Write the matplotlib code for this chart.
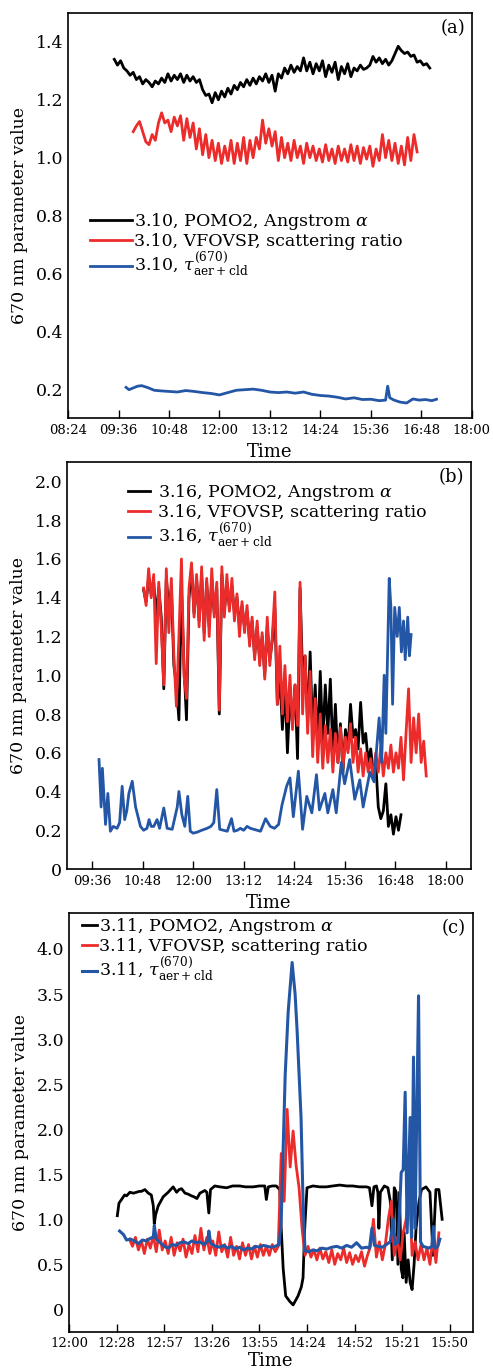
import numpy as np
import matplotlib
matplotlib.use('Agg')
import matplotlib.pyplot as plt

plt.rcParams['font.family'] = 'DejaVu Serif'
plt.rcParams['mathtext.fontset'] = 'dejavuserif'

BLACK = '#000000'
RED = '#ec2b2b'
BLUE = '#2456a6'

# ---------------- panel (a): 3.10 ----------------
a_black_span = (9.50, 17.00)
a_black = [1.34, 1.32, 1.335, 1.31, 1.30, 1.285, 1.295, 1.27, 1.28, 1.255,
           1.27, 1.26, 1.245, 1.265, 1.255, 1.275, 1.26, 1.29, 1.265, 1.285,
           1.27, 1.29, 1.26, 1.285, 1.265, 1.28, 1.26, 1.27, 1.235, 1.215,
           1.22, 1.19, 1.225, 1.20, 1.23, 1.21, 1.24, 1.22, 1.25, 1.235,
           1.26, 1.245, 1.27, 1.25, 1.275, 1.255, 1.28, 1.265, 1.29, 1.26,
           1.285, 1.23, 1.29, 1.275, 1.31, 1.29, 1.32, 1.295, 1.315, 1.30,
           1.345, 1.30, 1.33, 1.29, 1.325, 1.30, 1.335, 1.28, 1.32, 1.295,
           1.33, 1.27, 1.315, 1.29, 1.325, 1.28, 1.31, 1.30, 1.32, 1.305,
           1.31, 1.32, 1.35, 1.33, 1.345, 1.325, 1.34, 1.32, 1.335, 1.36,
           1.385, 1.37, 1.36, 1.365, 1.35, 1.355, 1.33, 1.335, 1.32, 1.325,
           1.31]
a_red_span = (9.95, 16.70)
a_red = [1.09, 1.11, 1.125, 1.09, 1.055, 1.045, 1.08, 1.06, 1.12, 1.155,
         1.12, 1.13, 1.09, 1.14, 1.11, 1.145, 1.06, 1.135, 1.07, 1.12,
         1.03, 1.10, 1.01, 1.08, 1.00, 1.06, 0.99, 1.05, 0.98, 1.04,
         0.99, 1.06, 0.98, 1.05, 0.99, 1.07, 0.98, 1.06, 1.00, 1.07,
         1.03, 1.13, 1.05, 1.10, 1.04, 1.09, 0.99, 1.07, 1.00, 1.05,
         0.99, 1.06, 1.00, 1.04, 0.98, 1.05, 1.00, 1.04, 0.99, 1.03,
         0.985, 1.045, 0.99, 1.03, 0.98, 1.04, 0.99, 1.03, 0.985, 1.045,
         0.99, 1.04, 0.98, 1.035, 0.995, 1.04, 0.97, 1.03, 0.99, 1.08,
         1.00, 1.06, 0.99, 1.05, 0.98, 1.04, 0.975, 1.07, 0.99, 1.08,
         1.02]
a_blue_t = [9.78, 9.85, 9.95, 10.05, 10.15, 10.3, 10.45, 10.6, 10.8, 11.0,
            11.2, 11.4, 11.6, 11.8, 12.0, 12.2, 12.4, 12.6, 12.8, 13.0,
            13.2, 13.4, 13.6, 13.8, 14.0, 14.2, 14.4, 14.6, 14.8, 15.0,
            15.2, 15.4, 15.6, 15.8, 15.95, 16.0, 16.05, 16.15, 16.3, 16.45,
            16.6, 16.75, 16.9, 17.05, 17.16]
a_blue = [0.206, 0.198, 0.204, 0.21, 0.212, 0.205, 0.196, 0.194, 0.192, 0.19,
          0.195, 0.192, 0.188, 0.185, 0.18, 0.188, 0.196, 0.198, 0.2, 0.196,
          0.19, 0.188, 0.19, 0.186, 0.19, 0.182, 0.178, 0.176, 0.172, 0.166,
          0.17, 0.164, 0.165, 0.16, 0.162, 0.21, 0.17, 0.162, 0.155, 0.152,
          0.166, 0.162, 0.164, 0.16, 0.165]
a_xticks = [8.4, 9.6, 10.8, 12.0, 13.2, 14.4, 15.6, 16.8, 18.0]
a_xlabels = ['08:24', '09:36', '10:48', '12:00', '13:12', '14:24', '15:36', '16:48', '18:00']
a_yticks = [0.2, 0.4, 0.6, 0.8, 1.0, 1.2, 1.4]
a_ylabels = ['0.2', '0.4', '0.6', '0.8', '1.0', '1.2', '1.4']

# ---------------- panel (b): 3.16 ----------------
b_black_span = (10.82, 16.94)
b_black = [1.44, 1.38, 1.50, 1.42, 1.48, 1.30, 1.45, 1.30, 0.93, 1.50,
           1.35, 1.45, 1.05, 0.95, 0.77, 1.45, 1.05, 0.77, 1.40, 1.55,
           1.32, 1.50, 1.28, 1.52, 1.22, 1.48, 1.25, 1.50, 1.32, 1.45,
           0.80, 1.52, 1.33, 1.48, 1.35, 1.46, 1.32, 1.40, 1.25, 1.36,
           1.25, 1.33, 1.18, 1.28, 1.10, 1.25, 1.08, 1.20, 1.00, 1.25,
           1.08, 1.18, 1.35, 0.85, 1.00, 0.72, 0.95, 0.60, 0.90, 0.75,
           0.95, 0.57, 1.45, 1.00, 1.10, 0.75, 1.12, 0.70, 0.95, 0.62,
           1.02, 0.66, 0.95, 0.70, 0.98, 0.60, 0.85, 0.55, 0.75, 0.50,
           0.72, 0.62, 0.85, 0.68, 0.72, 0.62, 0.86, 0.65, 0.70, 0.55,
           0.62, 0.50, 0.55, 0.32, 0.26, 0.30, 0.44, 0.22, 0.28, 0.18,
           0.27, 0.20, 0.28]
b_red_span = (10.82, 17.54)
b_red = [1.45, 1.36, 1.55, 1.40, 1.52, 1.06, 1.48, 1.25, 0.95, 1.55,
         1.22, 1.50, 1.10, 0.84, 1.20, 1.60, 1.00, 0.88, 1.45, 1.58,
         1.30, 1.52, 1.25, 1.56, 1.18, 1.50, 1.20, 1.55, 1.30, 1.48,
         0.82, 1.56, 1.30, 1.52, 1.33, 1.50, 1.28, 1.42, 1.20, 1.38,
         1.22, 1.36, 1.15, 1.30, 1.08, 1.28, 1.05, 1.22, 0.98, 1.30,
         1.05, 1.20, 1.43, 0.85, 1.15, 0.80, 1.05, 0.76, 1.00, 0.72,
         0.95, 0.74, 1.48, 0.80, 1.10, 0.70, 1.02, 0.58, 0.88, 0.55,
         0.80, 0.52, 0.74, 0.55, 0.72, 0.50, 0.70, 0.55, 0.73, 0.52,
         0.68, 0.60, 0.75, 0.55, 0.68, 0.50, 0.62, 0.48, 0.60, 0.50,
         0.57, 0.46, 0.60, 0.50, 0.63, 0.48, 0.60, 0.52, 0.64, 0.50,
         0.60, 0.52, 0.68, 0.46, 0.70, 0.93, 0.55, 0.78, 0.60, 0.80,
         0.55, 0.66, 0.48]
b_blue_t = [9.76, 9.81, 9.84, 9.915, 9.97, 10.03, 10.1, 10.19, 10.25, 10.31,
            10.37, 10.42, 10.47, 10.55, 10.63, 10.745, 10.82, 10.9, 10.95, 11.0,
            11.06, 11.14, 11.2, 11.30, 11.38, 11.5, 11.62, 11.66, 11.73, 11.8,
            11.87, 11.93, 12.0, 12.09, 12.2, 12.33, 12.42, 12.49, 12.56, 12.63,
            12.72, 12.81, 12.91, 12.97, 13.05, 13.12, 13.2, 13.28, 13.36, 13.44,
            13.52, 13.6, 13.72, 13.83, 13.93, 14.03, 14.11, 14.22, 14.3, 14.38,
            14.5, 14.6, 14.7, 14.82, 14.93, 15.0, 15.13, 15.2, 15.32, 15.4,
            15.52, 15.6, 15.72, 15.84, 15.96, 16.04, 16.2, 16.3, 16.36, 16.42,
            16.48, 16.54, 16.58, 16.66, 16.7, 16.74, 16.79, 16.85, 16.9, 16.95,
            17.0, 17.04, 17.1, 17.14, 17.18]
b_blue = [0.565, 0.32, 0.52, 0.23, 0.39, 0.195, 0.22, 0.21, 0.24, 0.427,
          0.255, 0.30, 0.39, 0.453, 0.32, 0.22, 0.20, 0.21, 0.255, 0.22,
          0.22, 0.255, 0.21, 0.315, 0.21, 0.205, 0.32, 0.40, 0.28, 0.22,
          0.375, 0.195, 0.185, 0.19, 0.20, 0.21, 0.22, 0.24, 0.41, 0.205,
          0.20, 0.195, 0.26, 0.195, 0.20, 0.21, 0.20, 0.22, 0.21, 0.205,
          0.20, 0.195, 0.26, 0.22, 0.21, 0.23, 0.33, 0.427, 0.47, 0.27,
          0.505, 0.205, 0.375, 0.29, 0.487, 0.305, 0.39, 0.29, 0.41, 0.29,
          0.55, 0.44, 0.565, 0.36, 0.46, 0.32, 0.50, 0.45, 0.62, 0.78,
          0.55, 1.00, 0.70, 1.50, 1.35, 0.85, 1.35, 1.20, 1.35, 1.12,
          1.28, 1.08, 1.30, 1.10, 1.21]
b_xticks = [9.6, 10.8, 12.0, 13.2, 14.4, 15.6, 16.8, 18.0]
b_xlabels = ['09:36', '10:48', '12:00', '13:12', '14:24', '15:36', '16:48', '18:00']
b_yticks = [0, 0.2, 0.4, 0.6, 0.8, 1.0, 1.2, 1.4, 1.6, 1.8, 2.0]
b_ylabels = ['0', '0.2', '0.4', '0.6', '0.8', '1.0', '1.2', '1.4', '1.6', '1.8', '2.0']

# ---------------- panel (c): 3.11 ----------------
c_black_t = [12.487, 12.504, 12.53, 12.56, 12.58, 12.614, 12.65, 12.68, 12.71, 12.73,
             12.765, 12.80, 12.83, 12.85, 12.86, 12.873, 12.90, 12.95, 13.0, 13.05,
             13.085, 13.11, 13.135, 13.17, 13.20, 13.235, 13.26, 13.29, 13.32, 13.37,
             13.39, 13.41, 13.427, 13.47, 13.52, 13.59, 13.65, 13.72, 13.78, 13.856,
             13.92, 13.974, 13.99, 14.01, 14.05, 14.09, 14.125, 14.14, 14.16, 14.185,
             14.225, 14.26, 14.31, 14.343, 14.36, 14.377, 14.40, 14.46, 14.53, 14.595,
             14.66, 14.73, 14.80, 14.86, 14.93, 15.0, 15.03, 15.055, 15.075, 15.10,
             15.115, 15.125, 15.14, 15.18, 15.216, 15.24, 15.26, 15.28, 15.30, 15.317,
             15.333, 15.35, 15.367, 15.38, 15.40, 15.42, 15.44, 15.46, 15.48, 15.50,
             15.53, 15.555, 15.60, 15.64, 15.656, 15.67, 15.686, 15.70, 15.73, 15.763]
c_black = [1.04, 1.18, 1.22, 1.27, 1.26, 1.30, 1.29, 1.30, 1.31, 1.31,
           1.33, 1.29, 1.27, 1.15, 0.95, 1.05, 1.15, 1.25, 1.30, 1.36,
           1.30, 1.33, 1.34, 1.29, 1.28, 1.26, 1.25, 1.23, 1.29, 1.32,
           1.30, 1.07, 1.33, 1.37, 1.36, 1.35, 1.37, 1.37, 1.36, 1.36,
           1.37, 1.37, 1.22, 1.36, 1.37, 1.37, 1.33, 0.90, 0.45, 0.15,
           0.09, 0.05, 0.15, 0.25, 0.35, 0.90, 1.35, 1.37, 1.36, 1.36,
           1.37, 1.38, 1.37, 1.37, 1.36, 1.36, 1.35, 1.15, 1.36, 1.37,
           1.30, 0.90, 1.30, 1.37, 1.35, 1.20, 0.55, 1.35, 1.30, 0.50,
           1.30, 0.45, 0.35, 0.85, 0.30, 0.55, 0.30, 0.22, 0.50, 0.90,
           1.20, 1.33, 1.36, 1.30, 0.95, 0.60, 1.00, 1.33, 1.33, 1.00]
c_red_span = (12.61, 15.73)
c_red = [0.78, 0.70, 0.80, 0.66, 0.76, 0.62, 0.78, 0.68, 0.82, 0.64,
         0.88, 0.66, 0.76, 0.62, 0.80, 0.60, 0.74, 0.65, 0.78, 0.58,
         0.72, 0.62, 0.82, 0.64, 0.90, 0.66, 0.80, 0.62, 0.76, 0.60,
         0.86, 0.64, 0.72, 0.58, 0.80, 0.60, 0.70, 0.56, 0.74, 0.60,
         0.72, 0.56, 0.70, 0.58, 0.72, 0.60, 0.70, 0.60, 0.72, 0.64,
         0.70, 1.73, 1.20, 2.22, 1.58, 1.98, 1.60, 1.35, 0.90, 0.60,
         0.70, 0.58, 0.66, 0.55, 0.68, 0.56, 0.64, 0.52, 0.66, 0.50,
         0.62, 0.55, 0.68, 0.52, 0.63, 0.50, 0.60, 0.53, 0.64, 0.48,
         0.60, 0.70, 1.00, 0.58, 0.75, 0.55, 0.72, 1.00, 1.20, 0.60,
         0.80, 0.55, 0.85, 1.00, 1.40, 0.60, 0.75, 0.55, 0.72, 0.55,
         0.68, 0.50, 0.80, 0.52, 0.85]
c_blue_t = [12.51, 12.55, 12.58, 12.62, 12.66, 12.70, 12.74, 12.78, 12.82, 12.85,
            12.86, 12.88, 12.92, 12.96, 13.00, 13.04, 13.08, 13.12, 13.16, 13.20,
            13.24, 13.28, 13.32, 13.36, 13.40, 13.41, 13.43, 13.48, 13.52, 13.56,
            13.60, 13.64, 13.68, 13.72, 13.76, 13.80, 13.84, 13.88, 13.92, 13.96,
            14.00, 14.04, 14.08, 14.12, 14.14, 14.16, 14.18, 14.21, 14.25, 14.28,
            14.30, 14.34, 14.36, 14.38, 14.42, 14.46, 14.50, 14.55, 14.60, 14.65,
            14.70, 14.75, 14.80, 14.85, 14.90, 14.95, 15.00, 15.03, 15.055, 15.08,
            15.12, 15.16, 15.20, 15.24, 15.27, 15.29, 15.32, 15.35, 15.37, 15.39,
            15.41, 15.44, 15.455, 15.474, 15.49, 15.525, 15.545, 15.57, 15.60, 15.63,
            15.66, 15.675, 15.69, 15.72, 15.74]
c_blue = [0.87, 0.83, 0.77, 0.78, 0.76, 0.73, 0.77, 0.76, 0.79, 0.80,
          0.93, 0.78, 0.74, 0.70, 0.68, 0.72, 0.71, 0.74, 0.75, 0.73,
          0.76, 0.74, 0.75, 0.72, 0.76, 0.87, 0.73, 0.70, 0.69, 0.71,
          0.68, 0.70, 0.67, 0.69, 0.66, 0.68, 0.67, 0.70, 0.69, 0.71,
          0.70, 0.69, 0.70, 0.72, 1.00, 1.80, 2.60, 3.30, 3.85, 3.50,
          3.10, 2.13, 1.20, 0.65, 0.64, 0.66, 0.65, 0.68, 0.67, 0.69,
          0.70, 0.68, 0.71, 0.69, 0.74, 0.68, 0.69, 0.68, 0.90, 0.71,
          0.70, 0.69, 0.72, 0.75, 1.00, 0.72, 0.75, 1.52, 1.55, 2.41,
          0.85, 2.13, 0.80, 2.80, 0.90, 3.48, 0.75, 0.70, 0.69, 0.68,
          0.70, 0.92, 0.68, 0.70, 0.78]
c_xticks = [12.0, 12.48, 12.96, 13.44, 13.92, 14.4, 14.88, 15.36, 15.84]
c_xlabels = ['12:00', '12:28', '12:57', '13:26', '13:55', '14:24', '14:52', '15:21', '15:50']
c_yticks = [0, 0.5, 1.0, 1.5, 2.0, 2.5, 3.0, 3.5, 4.0]
c_ylabels = ['0', '0.5', '1.0', '1.5', '2.0', '2.5', '3.0', '3.5', '4.0']

tau = r'$\tau^{(670)}_{\mathrm{aer+cld}}$'
LW = 2.0

fig = plt.figure(figsize=(4.93, 13.72), dpi=100)
ax_a = fig.add_axes([0.138, 0.6953, 0.819, 0.2952])
ax_b = fig.add_axes([0.136, 0.3666, 0.819, 0.2966])
ax_c = fig.add_axes([0.140, 0.0292, 0.819, 0.3054])


def style_axes(ax, xticks, xlabels, xlim, yticks, ylabels, ylim, tag, xlab_y):
    ax.set_xlim(*xlim)
    ax.set_ylim(*ylim)
    ax.set_xticks(xticks)
    ax.set_xticklabels(xlabels, fontsize=9.5)
    ax.set_yticks(yticks)
    ax.set_yticklabels(ylabels, fontsize=12.5)
    ax.tick_params(axis='x', direction='in', length=6, width=1.0, pad=4)
    ax.tick_params(axis='y', direction='in', length=0, pad=3.5)
    for s in ax.spines.values():
        s.set_linewidth(1.2)
    ax.set_xlabel('Time', fontsize=13)
    ax.set_ylabel('670 nm parameter value', fontsize=12.5)
    ax.xaxis.set_label_coords(0.5, xlab_y)
    ax.yaxis.set_label_coords(-0.10, 0.5)
    ax.text(0.953, 0.963, tag, transform=ax.transAxes, fontsize=13,
            ha='center', va='center')


# panel (a)
ax_a.plot(np.linspace(*a_black_span, len(a_black)), a_black, color=BLACK, lw=LW,
          label='3.10, POMO2, Angstrom $\\alpha$')
ax_a.plot(np.linspace(*a_red_span, len(a_red)), a_red, color=RED, lw=LW,
          label='3.10, VFOVSP, scattering ratio')
ax_a.plot(a_blue_t, a_blue, color=BLUE, lw=LW, label='3.10, ' + tau)
style_axes(ax_a, a_xticks, a_xlabels, (8.4, 18.0), a_yticks, a_ylabels, (0.1, 1.5), '(a)', -0.062)
ax_a.legend(loc='upper left', bbox_to_anchor=(0.055, 0.51), frameon=False,
            fontsize=12.5, handlelength=2.4, handletextpad=0.1, labelspacing=0.05,
            borderpad=0, borderaxespad=0)

# panel (b)
ax_b.plot(np.linspace(*b_black_span, len(b_black)), b_black, color=BLACK, lw=LW,
          label='3.16, POMO2, Angstrom $\\alpha$')
ax_b.plot(np.linspace(*b_red_span, len(b_red)), b_red, color=RED, lw=LW,
          label='3.16, VFOVSP, scattering ratio')
ax_b.plot(b_blue_t, b_blue, color=BLUE, lw=LW, label='3.16, ' + tau)
style_axes(ax_b, b_xticks, b_xlabels, (9.0, 18.6), b_yticks, b_ylabels, (0, 2.1), '(b)', -0.061)
ax_b.legend(loc='upper left', bbox_to_anchor=(0.15, 0.95), frameon=False,
            fontsize=12.5, handlelength=1.3, handletextpad=0.45, labelspacing=0.05,
            borderpad=0, borderaxespad=0)

# panel (c)
ax_c.plot(c_black_t, c_black, color=BLACK, lw=LW,
          label='3.11, POMO2, Angstrom $\\alpha$')
ax_c.plot(np.linspace(*c_red_span, len(c_red)), c_red, color=RED, lw=LW,
          label='3.11, VFOVSP, scattering ratio')
ax_c.plot(c_blue_t, c_blue, color=BLUE, lw=2.2, label='3.11, ' + tau)
style_axes(ax_c, c_xticks, c_xlabels, (12.0, 16.072), c_yticks, c_ylabels, (-0.25, 4.4), '(c)', -0.048)
ax_c.legend(loc='upper left', bbox_to_anchor=(0.033, 0.992), frameon=False,
            fontsize=12.5, handlelength=0.85, handletextpad=0.1, labelspacing=0.05,
            borderpad=0, borderaxespad=0)

fig.savefig('out.png', dpi=100)
